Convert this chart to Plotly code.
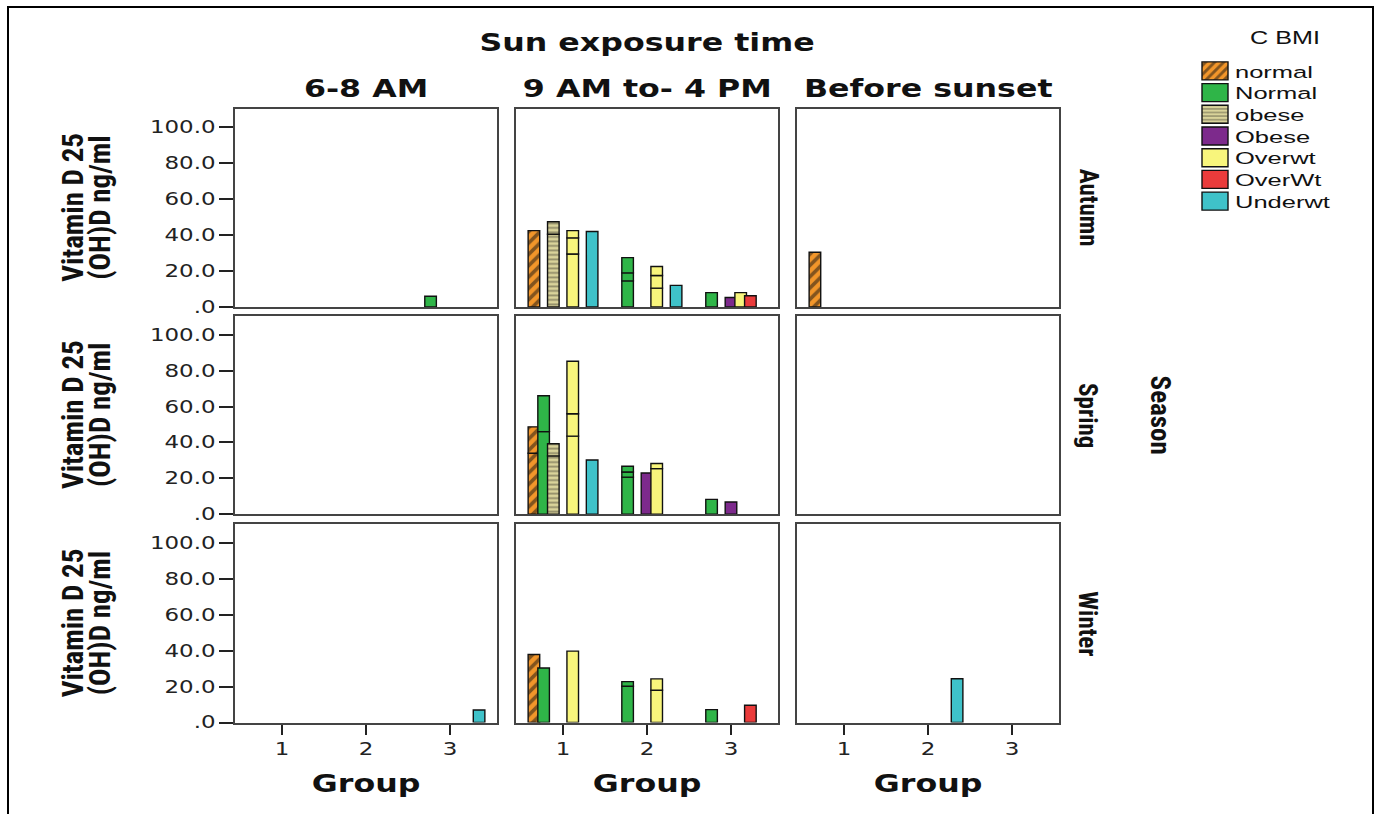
import plotly.graph_objects as go

W, H = 1379, 814

# ---------------- data ----------------
SEASONS = ["Autumn", "Spring", "Winter"]
TIMES = ["6-8 AM", "9 AM to- 4 PM", "Before sunset"]
BMI_LABELS = ["normal", "Normal", "obese", "Obese", "Overwt", "OverWt", "Underwt"]
BMI_COLORS = ["#f2962a", "#2fb548", "#d9d39a", "#7d2a8c", "#f8f57c", "#ea3b3b", "#3fc2c9"]
BMI_PATTERN = ["/", "", "-", "", "", "", ""]
BMI_PATTERN_FG = ["#111111", "#000000", "#4a4838", "#000000", "#000000", "#000000", "#000000"]

GROUP_TICKS = [1, 2, 3]
Y_TICKS = [0, 20, 40, 60, 80, 100]
Y_TICKTEXT = [".0", "20.0", "40.0", "60.0", "80.0", "100.0"]

# one entry per bar (season, time, group, bmi, total height, internal case lines)
bar_season = ["Autumn",
              "Autumn", "Autumn", "Autumn", "Autumn", "Autumn", "Autumn", "Autumn",
              "Autumn", "Autumn", "Autumn", "Autumn",
              "Autumn",
              "Spring", "Spring", "Spring", "Spring", "Spring",
              "Spring", "Spring", "Spring", "Spring", "Spring",
              "Winter",
              "Winter", "Winter", "Winter", "Winter", "Winter", "Winter", "Winter",
              "Winter"]
bar_time = ["6-8 AM",
            "9 AM to- 4 PM", "9 AM to- 4 PM", "9 AM to- 4 PM", "9 AM to- 4 PM", "9 AM to- 4 PM", "9 AM to- 4 PM", "9 AM to- 4 PM",
            "9 AM to- 4 PM", "9 AM to- 4 PM", "9 AM to- 4 PM", "9 AM to- 4 PM",
            "Before sunset",
            "9 AM to- 4 PM", "9 AM to- 4 PM", "9 AM to- 4 PM", "9 AM to- 4 PM", "9 AM to- 4 PM",
            "9 AM to- 4 PM", "9 AM to- 4 PM", "9 AM to- 4 PM", "9 AM to- 4 PM", "9 AM to- 4 PM",
            "6-8 AM",
            "9 AM to- 4 PM", "9 AM to- 4 PM", "9 AM to- 4 PM", "9 AM to- 4 PM", "9 AM to- 4 PM", "9 AM to- 4 PM", "9 AM to- 4 PM",
            "Before sunset"]
bar_group = [3,
             1, 1, 1, 1, 2, 2, 2,
             3, 3, 3, 3,
             1,
             1, 1, 1, 1, 1,
             2, 2, 2, 3, 3,
             3,
             1, 1, 1, 2, 2, 3, 3,
             2]
bar_bmi = ["Normal",
           "normal", "obese", "Overwt", "Underwt", "Normal", "Overwt", "Underwt",
           "Normal", "Obese", "Overwt", "OverWt",
           "normal",
           "normal", "Normal", "obese", "Overwt", "Underwt",
           "Normal", "Obese", "Overwt", "Normal", "Obese",
           "Underwt",
           "normal", "Normal", "Overwt", "Normal", "Overwt", "Normal", "OverWt",
           "Underwt"]
bar_total = [6.0,
             42.5, 47.5, 42.5, 42.0, 27.5, 22.5, 12.0,
             8.0, 5.3, 8.0, 6.2,
             30.5,
             48.7, 66.0, 39.3, 85.2, 30.2,
             26.7, 23.0, 28.3, 8.3, 6.8,
             7.0,
             37.9, 30.4, 39.8, 22.8, 24.3, 7.2, 9.6,
             24.4]
bar_inner = [[],
             [], [40.5], [29.5, 38.5], [], [14.5, 19.0], [10.5, 17.5], [],
             [], [], [], [],
             [],
             [34.0], [46.0], [32.5], [43.5, 56.0], [],
             [20.7, 23.5], [], [25.4], [], [],
             [],
             [], [], [], [20.2], [18.0], [], [],
             []]

# ---------------- layout geometry ----------------
def vy(y):
    return y * 1.009 + 1

COL_PX = [(235, 497), (516, 778), (797, 1059)]
ROW_PX = [(vy(108), vy(307)), (vy(316), vy(515)), (vy(525), vy(724))]
X_RANGE = [0.44, 3.56]
Y_RANGE = [0, 110.5]
SLOT = 0.1155
BW = 0.138

FONT_WIDE = "DejaVu Sans, Verdana, sans-serif"
FONT_NARROW = "Liberation Sans Narrow, Arial Narrow, Roboto Condensed, Liberation Sans, sans-serif"
FONT_LEG = "Liberation Sans, Arial, sans-serif"

fig = go.Figure()
legend_done = set()

for r, season in enumerate(SEASONS):
    for c, tm in enumerate(TIMES):
        idx = r * 3 + c + 1
        xa = "x" if idx == 1 else f"x{idx}"
        ya = "y" if idx == 1 else f"y{idx}"
        fig.add_trace(go.Scatter(x=[None], y=[None], mode="markers", showlegend=False,
                                 hoverinfo="skip", xaxis=xa, yaxis=ya))
        for k, bmi in enumerate(BMI_LABELS):
            xs, ys, bases = [], [], []
            for i in range(len(bar_total)):
                if bar_season[i] == season and bar_time[i] == tm and bar_bmi[i] == bmi:
                    bounds = [0] + bar_inner[i] + [bar_total[i]]
                    for j in range(len(bounds) - 1):
                        xs.append(bar_group[i] + (k - 3) * SLOT)
                        bases.append(bounds[j])
                        ys.append(bounds[j + 1] - bounds[j])
            if not xs:
                continue
            show = bmi not in legend_done
            legend_done.add(bmi)
            marker = dict(color=BMI_COLORS[k], line=dict(color="#111111", width=1.4))
            if BMI_PATTERN[k]:
                marker["pattern"] = dict(shape=BMI_PATTERN[k], fgcolor=BMI_PATTERN_FG[k],
                                         size=8 if k == 0 else 4.5,
                                         solidity=0.45 if k == 0 else 0.4)
            fig.add_trace(go.Bar(
                x=xs, y=ys, base=bases, width=BW, offset=-BW / 2,
                marker=marker, name=bmi, showlegend=show,
                legendrank=k + 1, xaxis=xa, yaxis=ya, hoverinfo="skip"))

layout = dict(
    width=W, height=H, paper_bgcolor="white", plot_bgcolor="white",
    margin=dict(l=0, r=0, t=0, b=0), barmode="overlay",
    font=dict(family=FONT_WIDE, color="#111111"),
    legend=dict(x=1195 / W, y=1 - 54 / H, xanchor="left", yanchor="top",
                bgcolor="rgba(0,0,0,0)", traceorder="normal",
                font=dict(family=FONT_LEG, size=17, color="#111111"),
                itemclick=False),
)

for r in range(3):
    for c in range(3):
        idx = r * 3 + c + 1
        xk = "xaxis" if idx == 1 else f"xaxis{idx}"
        yk = "yaxis" if idx == 1 else f"yaxis{idx}"
        x0, x1 = COL_PX[c]
        y0, y1 = ROW_PX[r]
        layout[xk] = dict(
            domain=[x0 / W, x1 / W], range=X_RANGE, anchor=f"y{idx}" if idx > 1 else "y",
            tickvals=GROUP_TICKS, ticktext=[str(g) for g in GROUP_TICKS],
            showticklabels=(r == 2), ticks="outside" if r == 2 else "",
            ticklen=10, tickwidth=2, tickcolor="#222222",
            tickfont=dict(family=FONT_WIDE, size=17, color="#222222"),
            showline=True, mirror=True, linecolor="#444444", linewidth=2,
            showgrid=False, zeroline=False, fixedrange=True)
        layout[yk] = dict(
            domain=[1 - y1 / H, 1 - y0 / H], range=Y_RANGE, anchor=f"x{idx}" if idx > 1 else "x",
            tickvals=Y_TICKS, ticktext=Y_TICKTEXT,
            showticklabels=(c == 0), ticks="outside" if c == 0 else "",
            ticklen=14, tickwidth=2, tickcolor="#222222",
            tickfont=dict(family=FONT_WIDE, size=17, color="#222222"),
            showline=True, mirror=True, linecolor="#444444", linewidth=2,
            showgrid=False, zeroline=False, fixedrange=True)

ann = []
def add_text(text, xpx, ypx, size, family, angle=0, bold=True):
    ann.append(dict(text=f"<b>{text}</b>" if bold else text, x=xpx / W, y=1 - ypx / H,
                    xref="paper", yref="paper", showarrow=False, textangle=angle,
                    xanchor="center", yanchor="middle",
                    font=dict(family=family, size=size, color="#111111")))

add_text("Sun exposure time", 647, vy(42), 24, FONT_WIDE)
for c, tm in enumerate(TIMES):
    xc = (COL_PX[c][0] + COL_PX[c][1]) / 2
    add_text(tm, xc, vy(88), 24, FONT_WIDE)
    add_text("Group", xc, vy(786), 24, FONT_WIDE)
for r, season in enumerate(SEASONS):
    yc = (ROW_PX[r][0] + ROW_PX[r][1]) / 2
    add_text(season, 1088, yc, 25, FONT_NARROW, angle=90)
    add_text("Vitamin D 25", 73, yc, 29, FONT_NARROW, angle=-90)
    add_text("(OH)D ng/ml", 100, yc, 29, FONT_NARROW, angle=-90)
add_text("Season", 1160, vy(415), 27, FONT_NARROW, angle=90)
add_text("C BMI", 1285, vy(37), 18, FONT_LEG, bold=False)

layout["annotations"] = ann
layout["shapes"] = [dict(type="rect", xref="paper", yref="paper",
                         x0=8 / W, x1=1373 / W, y0=-0.02, y1=1 - 7 / H,
                         line=dict(color="#000000", width=2))]

fig.update_layout(**layout)

# The reference artwork is stretched horizontally; widen horizontal labels to match.
POST = """
document.body.style.margin='0px';
document.body.style.overflow='hidden';
var gd = document.getElementById('{plot_id}');
function stretch(el, s, origin) {
  var bb = el.getBBox();
  var cx = origin === 'left' ? bb.x : (origin === 'right' ? bb.x + bb.width : bb.x + bb.width / 2);
  var t = el.getAttribute('transform') || '';
  el.setAttribute('transform', t + ' translate(' + cx + ',0) scale(' + s + ',1) translate(' + (-cx) + ',0)');
}
var wide = ['Sun exposure time', '6-8 AM', '9 AM to- 4 PM', 'Before sunset', 'Group', 'C BMI'];
gd.querySelectorAll('.annotation-text').forEach(function(el) {
  var txt = el.textContent;
  if (wide.indexOf(txt) >= 0) { stretch(el, txt === 'C BMI' ? 1.4 : 1.32, 'center'); }
});
gd.querySelectorAll('.yaxislayer-above text').forEach(function(el) { stretch(el, 1.35, 'right'); });
gd.querySelectorAll('.xaxislayer-above text').forEach(function(el) { stretch(el, 1.35, 'center'); });
gd.querySelectorAll('.legend, .legend [clip-path]').forEach(function(el) { el.removeAttribute('clip-path'); });
var items = gd.querySelectorAll('.legend .traces');
var base = null;
items.forEach(function(g, i) {
  var m = /translate\\(([-\\d.]+)[ ,]+([-\\d.]+)\\)/.exec(g.getAttribute('transform') || '');
  var x = m ? parseFloat(m[1]) : 0, y = m ? parseFloat(m[2]) : 0;
  if (base === null) { base = y; }
  g.setAttribute('transform', 'translate(' + x + ',' + (base + i * 21.7) + ')');
  g.querySelectorAll('g.legendpoints path').forEach(function(p) { p.setAttribute('d', 'M13,9H-13V-9H13Z'); });
  var t = g.querySelector('text.legendtext');
  if (t) { stretch(t, 1.5, 'left'); }
});
"""

fig.write_html("out.html", config={"displayModeBar": False}, post_script=POST)
